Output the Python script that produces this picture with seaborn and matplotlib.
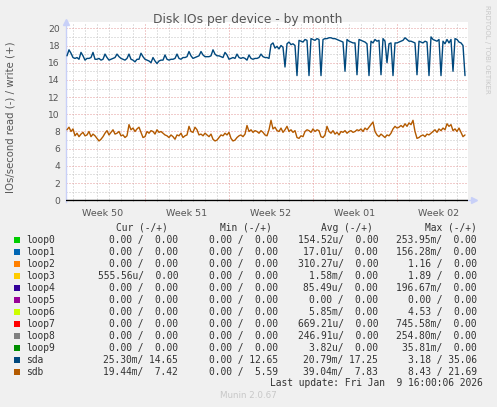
import numpy as np
import matplotlib
matplotlib.use("Agg")
import matplotlib.pyplot as plt
import seaborn as sns
from matplotlib.patches import Rectangle

# sda writes/s, one value per 4 hours (6 per day)
sda_write = [
    16.8, 17.5, 17.1, 16.6, 16.5, 16.6,
    16.4, 17.2, 16.8, 16.3, 16.5, 16.5,
    16.6, 17.2, 16.4, 16.4, 16.5, 16.3,
    16.4, 17.0, 16.6, 16.3, 16.4, 16.5,
    16.6, 17.0, 16.7, 16.5, 16.4, 16.3,
    16.5, 17.0, 16.4, 16.3, 16.1, 16.4,
    16.4, 17.1, 16.7, 16.4, 16.3, 16.2,
    16.0, 16.6, 16.2, 15.9, 16.2, 16.3,
    16.3, 16.9, 16.4, 16.3, 16.4, 16.4,
    16.5, 17.0, 16.5, 16.4, 16.6, 16.6,
    16.7, 17.3, 16.8, 16.5, 16.6, 16.7,
    16.8, 17.3, 16.9, 16.7, 16.7, 16.7,
    16.8, 17.5, 17.0, 16.8, 16.8, 16.7,
    16.6, 17.2, 16.9, 16.4, 16.5, 16.6,
    16.5, 17.0, 16.6, 16.5, 16.6, 16.5,
    16.3, 16.9, 16.5, 16.4, 16.5, 16.5,
    16.6, 17.0, 16.7, 16.6, 16.6, 16.5,
    18.1, 18.3, 17.7, 17.9, 17.6, 18.0,
    17.8, 15.5, 18.2, 18.4, 18.1, 18.2,
    18.0, 14.5, 18.6, 18.5, 18.4, 18.7,
    18.6, 14.5, 18.8, 18.7, 18.6, 18.8,
    18.7, 14.5, 18.7, 18.8, 18.8, 18.9,
    18.9, 18.8, 18.8, 18.7, 18.6, 18.5,
    18.4, 15.0, 18.7, 18.5, 18.4, 18.3,
    18.3, 14.6, 18.7, 18.6, 18.5, 18.4,
    18.2, 14.5, 18.5, 18.3, 18.7, 18.5,
    18.6, 14.6, 18.8, 18.5, 16.0, 18.2,
    18.3, 14.5, 18.3, 18.3, 18.4, 18.5,
    18.6, 18.9, 18.7, 18.5, 18.5, 18.4,
    18.3, 14.6, 18.5, 18.4, 18.3, 18.5,
    18.4, 14.5, 19.0, 18.7, 18.6, 18.5,
    18.7, 14.5, 18.5, 18.2, 18.7, 18.3,
    18.7, 15.0, 18.8, 18.7, 18.4, 18.3,
    18.0, 14.5,
]

# sdb writes/s, same sampling
sdb_write = [
    8.2, 8.5, 8.0, 8.3,
    7.5, 7.8, 7.4, 7.7, 7.9, 7.5, 7.6, 8.0, 7.4, 7.7, 7.5,
    7.2, 6.9, 7.1, 7.4,
    7.8, 8.1, 7.6, 7.9, 8.2, 7.7, 7.8, 8.0,
    7.5, 7.6, 7.3, 7.5,
    8.8,
    8.2, 8.4, 8.0, 8.3,
    8.5,
    7.9, 7.3, 7.4,
    8.0, 7.8, 8.1, 8.0, 7.7, 8.2, 7.9, 8.0, 7.8,
    7.6, 7.5, 7.3, 7.6, 7.4, 7.1, 7.6, 7.5, 7.8, 7.3, 7.5, 7.6,
    8.6, 8.0, 7.9, 8.5, 8.2,
    7.6, 7.7, 7.5, 7.8, 7.6, 7.4, 7.7,
    7.1, 6.9, 7.0, 7.3,
    7.6, 7.5, 7.8, 7.6, 7.9,
    7.2, 6.9, 7.0, 7.3,
    7.5, 7.6, 7.4, 7.7,
    8.7,
    8.0, 8.2, 7.9, 8.1, 8.0, 7.8, 8.1, 7.9,
    7.6, 7.5,
    8.2, 9.3, 8.3, 8.5,
    8.1, 8.0, 8.4, 7.9, 8.2, 8.6, 8.0, 8.2, 7.9, 8.1,
    7.3, 7.2, 7.5, 7.4,
    8.0, 8.2, 8.1, 7.9, 8.3, 8.0, 8.2, 8.1,
    7.4, 7.3, 7.6,
    8.6,
    8.0, 7.8, 8.1, 7.7, 7.9, 7.6,
    8.0, 7.9, 8.1, 7.8, 8.0, 8.1, 7.9, 8.0,
    8.2, 8.1, 8.3, 8.0, 8.4, 8.2, 8.5, 8.8,
    9.1,
    8.0, 7.6, 7.4, 7.7, 7.5, 7.3, 7.6, 7.5, 7.8,
    8.3, 8.6, 8.4, 8.5,
    8.7, 8.5, 8.9, 8.6, 9.0, 8.8,
    9.3,
    8.0, 7.2,
    7.3, 7.5, 7.6, 7.4, 7.7, 7.6, 7.8,
    8.0, 8.2, 7.9, 8.3, 8.1, 8.4, 8.2,
    8.9, 8.6, 8.8,
    8.1, 8.3, 8.0, 8.4,
    7.9, 7.4, 7.6,
]

week_labels = ["Week 50", "Week 51", "Week 52", "Week 01", "Week 02"]
week_mid = [3.0, 10.0, 17.0, 24.0, 31.0]
week_start = [6.5, 13.5, 20.5, 27.5]

devices = ["loop0", "loop1", "loop2", "loop3", "loop4", "loop5",
           "loop6", "loop7", "loop8", "loop9", "sda", "sdb"]
dev_colors = ["#00CC00", "#0066B3", "#FF8000", "#FFCC00", "#330099", "#990099",
              "#CCFF00", "#FF0000", "#808080", "#008F00", "#00487D", "#B35A00"]
cur_vals = ["0.00 /  0.00", "0.00 /  0.00", "0.00 /  0.00", "555.56u/  0.00",
            "0.00 /  0.00", "0.00 /  0.00", "0.00 /  0.00", "0.00 /  0.00",
            "0.00 /  0.00", "0.00 /  0.00", "25.30m/ 14.65", "19.44m/  7.42"]
min_vals = ["0.00 /  0.00"] * 10 + ["0.00 / 12.65", "0.00 /  5.59"]
avg_vals = ["154.52u/  0.00", "17.01u/  0.00", "310.27u/  0.00", "1.58m/  0.00",
            "85.49u/  0.00", "0.00 /  0.00", "5.85m/  0.00", "669.21u/  0.00",
            "246.91u/  0.00", "3.82u/  0.00", "20.79m/ 17.25", "39.04m/  7.83"]
max_vals = ["253.95m/  0.00", "156.28m/  0.00", "1.16 /  0.00", "1.89 /  0.00",
            "196.67m/  0.00", "0.00 /  0.00", "4.53 /  0.00", "745.58m/  0.00",
            "254.80m/  0.00", "35.81m/  0.00", "3.18 / 35.06", "8.43 / 21.69"]

W, H = 497, 407


def px(x, y):
    return x / W, 1 - y / H


sns.set_style("white")
plt.rcParams["font.family"] = ["DejaVu Sans"]

fig = plt.figure(figsize=(W / 100, H / 100), dpi=100, facecolor="#F0F0F0")
ax = fig.add_axes([66 / W, 1 - 202 / H, (468 - 66) / W, (202 - 22) / H])
ax.set_facecolor("white")

days_a = np.arange(len(sda_write)) / 6
days_b = np.arange(len(sdb_write)) / 6

ax.set_xlim(-1 / 12, (468 - 67) / 12)
ax.set_ylim(-0.198, 20.733)

# grid
ax.set_xticks(week_start)
ax.set_xticks(np.arange(0.5, 33.5, 1.0), minor=True)
ax.set_xticklabels([])
ax.set_yticks(np.arange(0, 21, 2))
ax.set_yticks(np.arange(1, 21, 2), minor=True)
dots = (0, (1, 2))
ax.grid(which="minor", color="#c4c4c4", ls=dots, lw=0.72)
ax.grid(which="major", color="#e49a9a", ls=dots, lw=0.72)
ax.set_axisbelow(True)
ax.tick_params(axis="x", which="major", length=3, color="#e49a9a", width=0.7)
ax.tick_params(axis="x", which="minor", length=2, color="#c4c4c4", width=0.7)
ax.tick_params(axis="y", which="both", length=0, pad=4.3, labelsize=6.6,
               labelcolor="#555555")

for s in ["top", "right", "bottom"]:
    ax.spines[s].set_visible(False)
ax.spines["left"].set_color("#c8d0f8")
ax.spines["left"].set_linewidth(1.0)

ax.axhline(0, color="black", lw=1.0, zorder=3)
ax.plot([33.42, 33.95], [0, 0], color="#c8d0f8", lw=1.0, clip_on=False)
ax.plot([33.95], [0], marker=">", ms=4, color="#c8d0f8", clip_on=False)
ax.plot([-1 / 12], [20.75], marker="^", ms=4, color="#c8d0f8", clip_on=False)

sns.lineplot(x=days_a, y=sda_write, ax=ax, color="#00487D", lw=1.0, zorder=4)
sns.lineplot(x=days_b, y=sdb_write, ax=ax, color="#B35A00", lw=1.0, zorder=4)
ax.set_xlabel("")
ax.set_ylabel("")

sec = ax.secondary_xaxis("bottom")
sec.set_xticks(week_mid, labels=week_labels)
sec.tick_params(length=0, pad=5.2, labelsize=6.8, labelcolor="#555555")
sec.spines["bottom"].set_visible(False)

fig.text(*px(248, 19), "Disk IOs per device - by month", ha="center", va="center",
         fontsize=8.8, color="#555555")
fig.text(*px(11, 117), "IOs/second read (-) / write (+)", ha="center", va="center",
         rotation=90, fontsize=7.3, color="#555555")
fig.text(*px(487, 5), "RRDTOOL / TOBI OETIKER", ha="center", va="top",
         rotation=270, fontsize=5.0, color="#c8c8c8")

mono = dict(family="DejaVu Sans Mono", fontsize=6.9, color="#333333", va="center")
heads = ["Cur (-/+)", "Min (-/+)", "Avg (-/+)", "Max (-/+)"]
head_x = [168, 272, 373, 477]
for h, hx in zip(heads, head_x):
    fig.text(*px(hx, 227.5), h, ha="right", **mono)

col_x = [178, 278, 378, 477]
for i, name in enumerate(devices):
    y = 240 + 12 * i
    fx, fy = px(14, y + 3)
    fig.patches.append(Rectangle((fx, fy), 6 / W, 6 / H, transform=fig.transFigure,
                                 facecolor=dev_colors[i], edgecolor="none"))
    fig.text(*px(26.5, y), name, ha="left", **mono)
    for vals, cx in zip([cur_vals, min_vals, avg_vals, max_vals], col_x):
        fig.text(*px(cx, y), vals[i], ha="right", **mono)

fig.text(*px(483, 383), "Last update: Fri Jan  9 16:00:06 2026", ha="right", **mono)
fig.text(*px(248, 396), "Munin 2.0.67", ha="center", va="center", fontsize=6.3,
         color="#c8c8c8")

fig.savefig("out.png", dpi=100, facecolor=fig.get_facecolor())
